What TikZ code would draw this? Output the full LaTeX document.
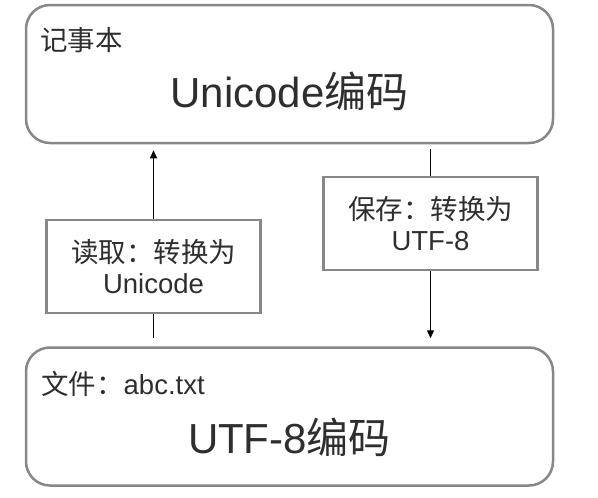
\documentclass[tikz,border=0pt]{standalone}
\usepackage{fontspec}
\setmainfont{Liberation Sans}
\newfontfamily\cjk{Noto Sans CJK SC}
\usetikzlibrary{arrows.meta,positioning}

\begin{document}
\begin{tikzpicture}[
  x=1pt,y=-1pt,
  every node/.style={inner sep=0pt,text=black!82},
  bigbox/.style={draw=black!47,line width=2.5pt,rounded corners=24pt,minimum width=527pt,minimum height=138pt},
  convbox/.style={draw=black!47,line width=2.5pt,minimum width=214pt,minimum height=93pt,align=center,font=\fontsize{27.5}{31.5}\selectfont},
  lab/.style={font=\fontsize{27.5}{31.5}\selectfont,anchor=base west},
  enc/.style={font=\fontsize{42}{48}\selectfont,anchor=base},
  conn/.style={line width=1.4pt},
  tip/.style={conn,-{Triangle[length=8pt,width=7pt]}},
]
  \useasboundingbox (0,0) rectangle (598,498);
  % ============ notepad ============
  \node[bigbox] (notepad) at (289.5,74) {};
  \node[lab] (notelab) at (40,50) {{\cjk 记事本}};
  \node[enc] (uniEnc) at (289.5,107) {Unicode{\cjk 编码}};
  % ============ file ============
  \node[bigbox] (file) at (289.5,416.5) {};
  \node[lab] (filelab) at (41,394) {{\cjk 文件：}abc.txt};
  \node[enc] (utfEnc) at (289.5,453) {UTF-8{\cjk 编码}};
  % ============ read / save ============
  \node[convbox] (readbox) at (153.5,266.5) {{\cjk 读取：转换为}\\Unicode};
  \node[convbox] (savebox) at (430.5,223.5) {{\cjk 保存：转换为}\\UTF-8};
  % connectors
  \draw[conn,shorten <=8pt] (file.north -| readbox.south) -- (readbox.south);
  \draw[tip,shorten >=6pt] (readbox.north) -- (readbox.north |- notepad.south);
  \draw[conn,shorten <=5pt] (notepad.south -| savebox.north) -- (savebox.north);
  \draw[tip,shorten >=8pt] (savebox.south) -- (savebox.south |- file.north);
\end{tikzpicture}
\end{document}
